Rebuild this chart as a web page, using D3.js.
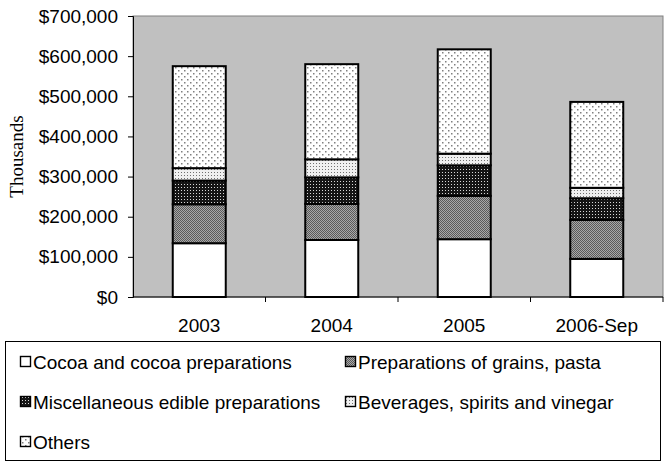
<!DOCTYPE html>
<html>
<head>
<meta charset="utf-8">
<script src="https://cdn.jsdelivr.net/npm/d3@7"></script>
<style>
  html, body { margin: 0; padding: 0; background: #fff; }
  svg { display: block; }
  text { font-family: "Liberation Sans", Arial, sans-serif; }
</style>
</head>
<body>
<svg id="chart" width="665" height="465"></svg>
<script>
const categories = ["2003", "2004", "2005", "2006-Sep"];
const seriesNames = [
  "Cocoa and cocoa preparations",
  "Preparations of grains, pasta",
  "Miscellaneous edible preparations",
  "Beverages, spirits and vinegar",
  "Others"
];
const cocoa     = [134000, 142000, 144000, 95000];
const grains    = [97000, 90000, 108000, 97000];
const misc      = [59000, 66000, 76000, 54000];
const beverages = [31000, 45000, 29000, 26000];
const others    = [254000, 237000, 260000, 214000];
const yTicks = [0, 100000, 200000, 300000, 400000, 500000, 600000, 700000];
const yLabel = "Thousands";

const seriesValues = [cocoa, grains, misc, beverages, others];
const patternIds = ["p-cocoa", "p-grains", "p-misc", "p-bev", "p-others"];

const svg = d3.select("#chart");
const plot = { left: 133, right: 663, top: 16, bottom: 297 };
const FS = 19;

// patterns
const defs = svg.append("defs");
function pat(id, size, bg) {
  const p = defs.append("pattern").attr("id", id).attr("patternUnits", "userSpaceOnUse")
    .attr("width", size).attr("height", size);
  p.append("rect").attr("width", size).attr("height", size).attr("fill", bg);
  return p;
}
pat("p-cocoa", 4, "#ffffff");
const pg = pat("p-grains", 2, "#a8a8a8");
pg.append("rect").attr("x", 0).attr("y", 0).attr("width", 1).attr("height", 1).attr("fill", "#5a5a5a");
pg.append("rect").attr("x", 1).attr("y", 1).attr("width", 1).attr("height", 1).attr("fill", "#5a5a5a");
const pm = pat("p-misc", 3, "#151515");
pm.append("rect").attr("x", 1).attr("y", 1).attr("width", 1).attr("height", 1).attr("fill", "#d8d8d8");
const pb = pat("p-bev", 3, "#f0f0f0");
pb.append("rect").attr("x", 1).attr("y", 1).attr("width", 1).attr("height", 1).attr("fill", "#707070");
const po = pat("p-others", 6, "#ffffff");
po.append("rect").attr("x", 1).attr("y", 1).attr("width", 1.5).attr("height", 1.5).attr("fill", "#808080");
po.append("rect").attr("x", 4).attr("y", 4).attr("width", 1.5).attr("height", 1.5).attr("fill", "#808080");

const x = d3.scaleBand().domain(categories).range([plot.left, plot.right]).paddingInner(0.6).paddingOuter(0.3);
const xOuter = d3.scaleBand().domain(categories).range([plot.left, plot.right]);
const y = d3.scaleLinear().domain([0, 700000]).range([plot.bottom, plot.top]);

// plot background
svg.append("rect").attr("x", plot.left).attr("y", plot.top)
  .attr("width", plot.right - plot.left).attr("height", plot.bottom - plot.top)
  .attr("fill", "#c0c0c0").attr("stroke", "#808080").attr("stroke-width", 1);

// stacked data
const rows = categories.map((c, i) => {
  const o = { cat: c };
  seriesNames.forEach((s, j) => o[s] = seriesValues[j][i]);
  return o;
});
const stack = d3.stack().keys(seriesNames)(rows);

const g = svg.append("g");
stack.forEach((layer, j) => {
  g.selectAll(null).data(layer).enter().append("rect")
    .attr("x", d => x(d.data.cat))
    .attr("width", x.bandwidth())
    .attr("y", d => y(d[1]))
    .attr("height", d => y(d[0]) - y(d[1]))
    .attr("fill", `url(#${patternIds[j]})`)
    .attr("stroke", "#000").attr("stroke-width", 2);
});

// y axis
const yAxis = d3.axisLeft(y).tickValues(yTicks).tickSize(5).tickPadding(10)
  .tickFormat(d => "$" + d3.format(",")(d));
const ya = svg.append("g").attr("transform", `translate(${plot.left},0)`).call(yAxis);
ya.select(".domain").attr("stroke", "#000");
ya.selectAll(".tick line").attr("stroke", "#000");
ya.selectAll("text").attr("font-size", FS).attr("fill", "#000")
  .style("font-family", '"Liberation Sans", Arial, sans-serif');

// x axis: ticks at category boundaries
const xa = svg.append("g").attr("transform", `translate(0,${plot.bottom})`);
xa.append("line").attr("x1", plot.left).attr("x2", plot.right).attr("stroke", "#000");
const boundaries = categories.slice(1).map(c => xOuter(c)).concat([plot.right]);
xa.selectAll(null).data(boundaries).enter().append("line")
  .attr("x1", d => d).attr("x2", d => d).attr("y1", 0).attr("y2", 5).attr("stroke", "#000");
xa.selectAll(null).data(categories).enter().append("text")
  .attr("x", d => xOuter(d) + xOuter.bandwidth() / 2)
  .attr("y", 35).attr("text-anchor", "middle").attr("font-size", FS).attr("fill", "#000")
  .text(d => d);

// y label
svg.append("text").attr("transform", `translate(23,${(plot.top + plot.bottom) / 2}) rotate(-90)`)
  .attr("text-anchor", "middle").attr("font-size", FS)
  .style("font-family", '"Liberation Serif", "Times New Roman", serif')
  .text(yLabel);

// legend
const leg = svg.append("g");
leg.append("rect").attr("x", 5.5).attr("y", 341.5).attr("width", 655).attr("height", 119)
  .attr("fill", "#fff").attr("stroke", "#000").attr("stroke-width", 1);
const legPos = [
  [20, 362], [345, 362],
  [20, 402], [345, 402],
  [20, 442]
];
seriesNames.forEach((s, j) => {
  const [lx, ly] = legPos[j];
  leg.append("rect").attr("x", lx + 0.5).attr("y", ly - 5.5).attr("width", 10).attr("height", 10)
    .attr("fill", `url(#${patternIds[j]})`).attr("stroke", "#000").attr("stroke-width", 1.4);
  leg.append("text").attr("x", lx + 13).attr("y", ly).attr("dy", "0.35em")
    .attr("font-size", FS).attr("fill", "#000").text(s);
});
</script>
</body>
</html>
